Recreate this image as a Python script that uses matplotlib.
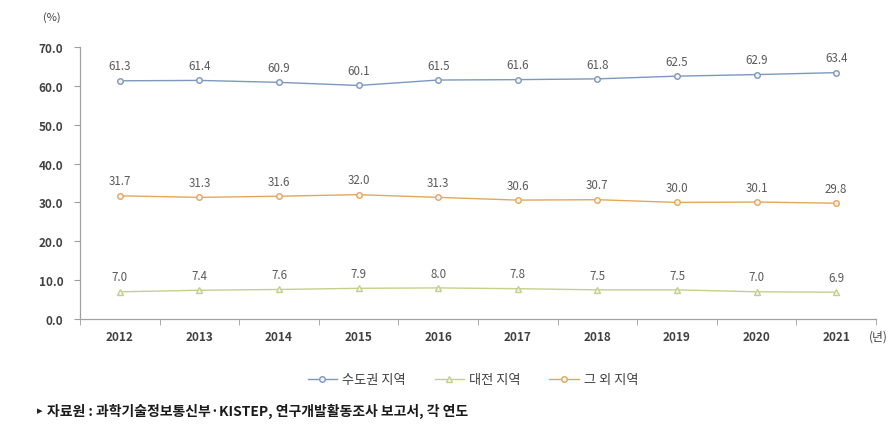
import matplotlib
matplotlib.use("Agg")
import matplotlib.pyplot as plt
from matplotlib.lines import Line2D

plt.rcParams['font.family'] = ['Noto Sans CJK KR', 'DejaVu Sans']

years = ['2012', '2013', '2014', '2015', '2016', '2017', '2018', '2019', '2020', '2021']
capital = [61.3, 61.4, 60.9, 60.1, 61.5, 61.6, 61.8, 62.5, 62.9, 63.4]
daejeon = [7.0, 7.4, 7.6, 7.9, 8.0, 7.8, 7.5, 7.5, 7.0, 6.9]
others = [31.7, 31.3, 31.6, 32.0, 31.3, 30.6, 30.7, 30.0, 30.1, 29.8]
series_names = ['수도권 지역', '대전 지역', '그 외 지역']
yticks = [0, 10, 20, 30, 40, 50, 60, 70]

c_blue = '#7D98BF'
c_green = '#C5CF8C'
c_orange = '#E3A75C'
txt = '#595959'

fig = plt.figure(figsize=(8.95, 4.39), dpi=100)
ax = fig.add_axes([80/895, 1-320/439, 796/895, 272/439])

x = list(range(len(years)))
for vals, col, mk in [(capital, c_blue, 'o'), (daejeon, c_green, '^'), (others, c_orange, 'o')]:
    ax.plot(x, vals, color=col, lw=1.0, marker=mk, ms=4,
            mfc='#F4F4F4', mec=col, mew=1.0)
    for xi, v in zip(x, vals):
        ax.annotate(f'{v:.1f}', (xi, v), xytext=(0, 6), textcoords='offset points',
                    ha='center', va='bottom', fontsize=8.3, color=txt)

ax.set_xlim(-0.5, len(years) - 0.5)
ax.set_ylim(0, 70)
ax.set_yticks(yticks)
ax.set_yticklabels([f'{v:.1f}' for v in yticks], fontsize=8.5, color='#404040', fontweight='bold')
ax.set_xticks(x)
ax.set_xticklabels(years, fontsize=8.5, color='#404040', fontweight='bold')
ax.tick_params(axis='x', length=0, pad=8)
ax.set_xticks([i + 0.5 for i in range(-1, len(years))], minor=True)
ax.tick_params(axis='x', which='minor', length=4, color='#A0A0A0', direction='out')
ax.tick_params(axis='y', length=4, color='#A0A0A0', pad=8)

for s in ['top', 'right']:
    ax.spines[s].set_visible(False)
for s in ['left', 'bottom']:
    ax.spines[s].set_color('#A0A0A0')
    ax.spines[s].set_linewidth(0.9)

fig.text(52/895, 1-18/439, '(%)', fontsize=8, color='#404040', ha='center', va='center')
fig.text(878/895, 1-337/439, '(년)', fontsize=8.5, color='#404040', ha='center', va='center')

handles = [
    Line2D([], [], color=c_blue, marker='o', mfc='#F4F4F4', ms=4, lw=1.0),
    Line2D([], [], color=c_green, marker='^', mfc='#F4F4F4', ms=4, lw=1.0),
    Line2D([], [], color=c_orange, marker='o', mfc='#F4F4F4', ms=4, lw=1.0),
]
fig.legend(handles, series_names, loc='center', bbox_to_anchor=(473/895, 1-381/439), ncol=3,
           frameon=False, fontsize=9.5, handlelength=2.2, columnspacing=2.2, handletextpad=0.4,
           labelcolor='#404040')

fig.text(37/895, 1-411/439, '▸', fontsize=8, color='#222222', ha='left', va='center',
         family=['DejaVu Sans'])
fig.text(47/895, 1-411/439, '자료원 : 과학기술정보통신부·KISTEP, 연구개발활동조사 보고서, 각 연도',
         fontsize=10, color='#1A1A1A', ha='left', va='center', fontweight='bold')

fig.savefig('out.png', dpi=100, facecolor='white')
